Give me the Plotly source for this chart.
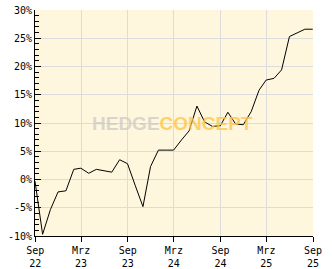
import plotly.graph_objects as go

dates = ["2022-08-31", "2022-09-30", "2022-10-31", "2022-11-30", "2022-12-31",
         "2023-01-31", "2023-02-28", "2023-03-31", "2023-04-30", "2023-05-31",
         "2023-06-30", "2023-07-31", "2023-08-31", "2023-09-30", "2023-10-31",
         "2023-11-30", "2023-12-31", "2024-01-31", "2024-02-29", "2024-03-31",
         "2024-04-30", "2024-05-31", "2024-06-30", "2024-07-31", "2024-08-31",
         "2024-09-30", "2024-10-31", "2024-11-30", "2024-12-31", "2025-01-31",
         "2025-02-28", "2025-03-31", "2025-04-30", "2025-05-31", "2025-06-30",
         "2025-07-31", "2025-08-31"]
values = [-0.3, -9.7, -5.3, -2.2, -2.0,
          1.8, 2.0, 1.1, 1.8, 1.6,
          1.3, 3.5, 2.8, -1.0, -4.8,
          2.3, 5.2, 5.2, 5.2, 7.0,
          8.6, 13.0, 10.2, 9.4, 9.5,
          11.9, 9.8, 9.7, 12.0, 15.8,
          17.6, 17.9, 19.4, 25.3, 26.0,
          26.6, 26.6]

x_tickvals = ["2022-09-01", "2023-03-01", "2023-09-01", "2024-03-01",
              "2024-09-01", "2025-03-01", "2025-09-01"]
x_ticktext = ["Sep<br>22", "Mrz<br>23", "Sep<br>23", "Mrz<br>24",
              "Sep<br>24", "Mrz<br>25", "Sep<br>25"]
y_tickvals = [-10, -5, 0, 5, 10, 15, 20, 25, 30]
y_ticktext = ["-10%", "-5%", "0%", "5%", "10%", "15%", "20%", "25%", "30%"]

fig = go.Figure()
fig.add_trace(go.Scatter(x=dates, y=values, mode="lines",
                         line=dict(color="black", width=1), hoverinfo="skip"))

fig.add_annotation(
    x=0.495, y=0.5, xref="paper", yref="paper", showarrow=False,
    text='<b><span style="color:rgba(205,203,198,0.75)">HEDGE</span>'
         '<span style="color:rgba(253,198,75,0.8)">CONCEPT</span></b>',
    font=dict(family="Liberation Sans Narrow, Liberation Sans, sans-serif", size=19),
)

fnt = dict(family="DejaVu Sans Mono, monospace", size=10, color="black")
fig.update_layout(
    width=332, height=269, autosize=False,
    margin=dict(l=35, r=19, t=10, b=33, autoexpand=False),
    paper_bgcolor="white", plot_bgcolor="#fef6dd",
    showlegend=False,
    xaxis=dict(type="date", range=["2022-08-31", "2025-09-01"],
               tickvals=x_tickvals, ticktext=x_ticktext, automargin=False,
               showgrid=True, gridcolor="#dcdcdc", gridwidth=1,
               showline=True, linecolor="black", linewidth=1,
               ticks="outside", ticklen=5, tickcolor="black",
               tickfont=fnt, zeroline=False, fixedrange=True),
    yaxis=dict(range=[-10, 30], tickvals=y_tickvals, ticktext=y_ticktext,
               automargin=False,
               showgrid=True, gridcolor="#dcdcdc", gridwidth=1,
               showline=True, linecolor="black", linewidth=1,
               ticks="inside", ticklen=6, tickcolor="black",
               minor=dict(dtick=1, ticks="inside", ticklen=4, tickcolor="black",
                          showgrid=False),
               tickfont=fnt, zeroline=False, fixedrange=True),
)

fig.write_html("out.html", config={"displayModeBar": False})
